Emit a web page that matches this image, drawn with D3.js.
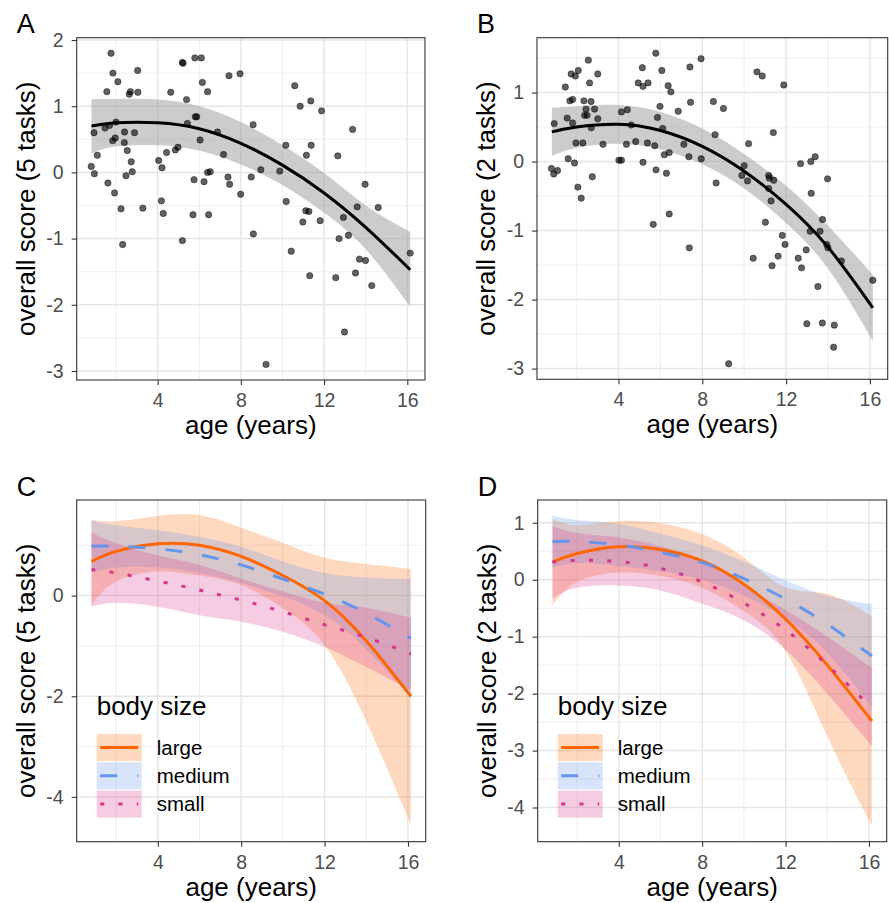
<!DOCTYPE html>
<html>
<head>
<meta charset="utf-8">
<script src="https://cdn.jsdelivr.net/npm/d3@7"></script>
<style>
  body { margin: 0; background: #fff; }
  svg { display: block; font-family: "Liberation Sans", Arial, sans-serif; }
</style>
</head>
<body>
<script>
// ==========================================
// DATA
// ==========================================

// Panel A: overall score (5 tasks) per dog
const ageA = [1.76,1.85,2.09,1.56,3.04,2.69,2.64,3.05,4.63,5.19,5.22,5.79,6.10,6.15,6.40,5.39,7.43,7.96,5.81,5.88,
  5.43,6.88,6.04,8.59,0.94,1.47,1.69,2.00,2.41,2.89,1.84,1.96,2.40,2.54,1.10,0.81,0.96,1.61,1.93,2.73,
  2.78,2.48,2.24,3.29,2.32,4.05,4.21,4.43,4.85,4.98,4.18,4.27,5.19,5.75,6.23,6.40,6.53,5.70,6.45,7.17,
  7.38,7.46,7.99,8.50,8.60,9.21,8.96,9.87,10.16,10.18,10.42,10.59,10.85,11.36,11.38,11.15,11.88,11.12,11.27,10.98,
  11.81,11.31,12.66,13.37,13.97,13.59,14.60,12.93,12.72,13.17,13.70,13.99,12.56,13.51,14.29,12.98,16.14];
const scoreA = [1.80,1.50,1.37,1.22,1.54,1.22,1.18,1.21,1.21,1.66,1.65,1.73,1.73,1.36,1.22,1.10,1.46,1.49,0.84,0.84,
  0.74,0.61,0.49,0.72,0.60,0.67,0.71,0.76,0.61,0.60,0.48,0.52,0.45,0.33,0.26,0.09,-0.02,-0.16,-0.31,0.16,
  0.01,-0.05,-0.55,-0.54,-1.09,0.18,0.07,0.30,0.34,0.38,-0.43,-0.62,-1.03,-0.11,-0.14,0.00,0.01,-0.64,-0.64,0.27,
  -0.07,-0.18,-0.33,-0.07,-0.93,-2.90,0.04,0.02,0.41,-0.44,-1.19,1.31,1.00,1.08,0.41,0.26,0.93,-0.58,-0.59,-0.75,
  -0.73,-1.56,0.25,0.65,-0.18,-0.52,-0.53,-0.68,-1.00,-0.95,-1.31,-1.33,-1.59,-1.52,-1.71,-2.41,-1.22];

// Panel B: overall score (2 tasks) per dog
const ageB = [2.56,2.08,1.94,1.74,3.01,2.62,1.46,1.68,1.81,2.35,2.69,2.45,2.86,2.38,2.50,3.01,1.55,1.81,0.93,2.70,
  1.97,2.30,3.26,1.60,1.90,0.80,0.91,1.09,2.06,2.22,2.75,4.14,4.42,4.61,4.38,4.02,4.14,4.82,4.94,5.17,
  5.41,5.14,5.78,6.07,5.98,5.86,6.11,5.38,5.73,5.17,5.79,6.19,6.42,6.29,5.66,6.42,6.37,6.50,6.85,7.41,
  7.94,7.44,7.12,7.36,7.95,7.38,8.53,9.01,8.61,8.66,9.26,10.61,10.86,11.89,11.39,10.21,10.00,9.89,10.16,11.17,
  11.20,11.41,11.17,11.28,11.01,10.43,11.82,11.95,11.62,11.33,12.69,13.18,13.39,13.98,13.20,13.74,13.62,13.15,13.94,14.00,
  14.64,12.96,12.58,12.74,13.52,16.14,12.99,13.73,14.30,14.27];
const scoreB = [1.47,1.32,1.24,1.27,1.27,1.14,1.08,0.88,0.90,0.88,0.87,0.76,0.76,0.67,0.67,0.62,0.63,0.56,0.55,0.49,
  0.27,0.27,0.25,0.04,-0.02,-0.10,-0.18,-0.13,-0.37,-0.53,-0.22,0.72,0.75,0.53,0.25,0.02,0.02,0.29,1.14,1.09,
  1.14,1.36,1.57,1.32,0.80,0.64,0.48,0.27,0.23,-0.01,-0.12,0.10,0.13,-0.17,-0.91,-0.76,1.10,1.01,0.73,1.37,
  1.49,0.86,0.25,0.07,0.04,-1.25,0.87,0.77,0.39,-0.31,-2.93,1.30,1.24,1.11,0.42,0.26,-0.06,-0.20,-0.28,-0.20,
  -0.24,-0.27,-0.39,-0.57,-0.88,-1.40,-1.07,-1.20,-1.37,-1.51,-0.03,0.00,0.07,-0.25,-0.46,-0.84,-1.01,-1.01,-1.20,-1.25,
  -1.44,-1.28,-1.40,-1.54,-1.81,-1.72,-2.35,-2.34,-2.37,-2.69];

// ages at which the fitted curves were read
const fitAges = [0.82, 2, 4, 6, 8, 10, 12, 14, 16.14];

// Panels A and B: fitted curve with confidence band
const fitA   = [0.70, 0.75, 0.75, 0.66, 0.44, 0.11, -0.31, -0.83, -1.47];
const fitALo = [0.29, 0.39, 0.41, 0.33, 0.12, -0.19, -0.61, -1.16, -2.03];
const fitAHi = [1.11, 1.11, 1.10, 1.00, 0.76, 0.41, -0.01, -0.50, -0.90];
const fitB   = [0.43, 0.50, 0.54, 0.45, 0.22, -0.14, -0.62, -1.24, -2.12];
const fitBLo = [0.08, 0.20, 0.26, 0.18, -0.04, -0.39, -0.89, -1.55, -2.60];
const fitBHi = [0.78, 0.80, 0.82, 0.72, 0.48, 0.11, -0.35, -0.93, -1.64];

// Panel C: body size groups (5 tasks)
const largeC   = [0.68, 0.88, 1.03, 1.00, 0.78, 0.40, -0.10, -0.90, -2.00];
const largeCLo = [-0.19, 0.28, 0.48, 0.40, 0.21, -0.25, -0.98, -2.50, -4.55];
const largeCHi = [1.51, 1.48, 1.58, 1.60, 1.35, 1.05, 0.75, 0.63, 0.53];
const mediumC   = [0.98, 0.98, 0.93, 0.81, 0.61, 0.33, 0.03, -0.35, -0.85];
const mediumCLo = [0.46, 0.56, 0.56, 0.45, 0.25, -0.02, -0.39, -1.06, -2.03];
const mediumCHi = [1.50, 1.40, 1.30, 1.17, 0.97, 0.68, 0.45, 0.36, 0.33];
const smallC   = [0.52, 0.45, 0.29, 0.11, -0.09, -0.32, -0.58, -0.83, -1.16];
const smallCLo = [-0.22, -0.14, -0.22, -0.39, -0.52, -0.72, -1.02, -1.42, -1.88];
const smallCHi = [1.26, 1.04, 0.80, 0.61, 0.34, 0.08, -0.14, -0.24, -0.44];

// Panel D: body size groups (2 tasks)
const largeD   = [0.31, 0.46, 0.58, 0.53, 0.33, -0.08, -0.69, -1.50, -2.48];
const largeDLo = [-0.45, -0.04, 0.13, 0.07, -0.14, -0.55, -1.25, -2.75, -4.32];
const largeDHi = [1.07, 0.96, 1.03, 0.99, 0.80, 0.39, -0.13, -0.25, -0.64];
const mediumD   = [0.67, 0.67, 0.61, 0.48, 0.30, 0.02, -0.34, -0.78, -1.34];
const mediumDLo = [0.21, 0.29, 0.24, 0.15, 0.00, -0.28, -0.67, -1.28, -2.25];
const mediumDHi = [1.13, 1.05, 0.98, 0.81, 0.60, 0.32, -0.01, -0.28, -0.43];
const smallD   = [0.31, 0.34, 0.32, 0.20, -0.04, -0.41, -0.88, -1.50, -2.25];
const smallDLo = [-0.33, -0.14, -0.10, -0.19, -0.42, -0.71, -1.23, -2.00, -2.92];
const smallDHi = [0.95, 0.82, 0.74, 0.59, 0.34, -0.11, -0.53, -1.00, -1.55];

const sizeLabels = ["large", "medium", "small"];
const xTicks = [4, 8, 12, 16];
const xMinor = [2, 6, 10, 14];

// ==========================================
// STYLE
// ==========================================
const W = 889, H = 903;
const xDomain = [0.11, 16.85];
const sizeColor = {large: "#FF6600", medium: "#6495ED", small: "#D6338C"};
const sizeDash = {large: null, medium: "17,20", small: "4,14.3"};
const bandOpacity = 0.25;

const svg = d3.select("body").append("svg")
    .attr("width", W)
    .attr("height", H);

const toRows = (fit, lo, hi) => fitAges.map((a, i) => ({age: a, fit: fit[i], lo: lo[i], hi: hi[i]}));

const panels = [
  {letter: "A", left: 76.7, right: 425, top: 37.7, bottom: 380, yDomain: [-3.136, 2.035],
   yTicks: [-3, -2, -1, 0, 1, 2], yMinor: [-2.5, -1.5, -0.5, 0.5, 1.5],
   yTitle: "overall score (5 tasks)", points: [ageA, scoreA], fit: toRows(fitA, fitALo, fitAHi)},
  {letter: "B", left: 537, right: 887.7, top: 37.7, bottom: 379.3, yDomain: [-3.155, 1.795],
   yTicks: [-3, -2, -1, 0, 1], yMinor: [-2.5, -1.5, -0.5, 0.5, 1.5],
   yTitle: "overall score (2 tasks)", points: [ageB, scoreB], fit: toRows(fitB, fitBLo, fitBHi)},
  {letter: "C", left: 76.7, right: 425.7, top: 500, bottom: 841.7, yDomain: [-4.89, 1.90],
   yTicks: [-4, -2, 0], yMinor: [-3, -1, 1],
   yTitle: "overall score (5 tasks)",
   groups: {large: toRows(largeC, largeCLo, largeCHi), medium: toRows(mediumC, mediumCLo, mediumCHi),
            small: toRows(smallC, smallCLo, smallCHi)}},
  {letter: "D", left: 537.7, right: 886.7, top: 500, bottom: 841.7, yDomain: [-4.60, 1.40],
   yTicks: [-4, -3, -2, -1, 0, 1], yMinor: [-3.5, -2.5, -1.5, -0.5, 0.5],
   yTitle: "overall score (2 tasks)",
   groups: {large: toRows(largeD, largeDLo, largeDHi), medium: toRows(mediumD, mediumDLo, mediumDHi),
            small: toRows(smallD, smallDLo, smallDHi)}}
];

panels.forEach(drawPanel);

// ==========================================
// DRAWING
// ==========================================
function drawPanel(p) {
  const x = d3.scaleLinear().domain(xDomain).range([p.left, p.right]);
  const y = d3.scaleLinear().domain(p.yDomain).range([p.bottom, p.top]);
  const g = svg.append("g");

  // grid (minor first, then major)
  const grid = g.append("g");
  grid.selectAll(".vmin").data(xMinor).join("line")
      .attr("x1", d => x(d)).attr("x2", d => x(d)).attr("y1", p.top).attr("y2", p.bottom)
      .attr("stroke", "#EBEBEB").attr("stroke-width", 0.8);
  grid.selectAll(".hmin").data(p.yMinor).join("line")
      .attr("x1", p.left).attr("x2", p.right).attr("y1", d => y(d)).attr("y2", d => y(d))
      .attr("stroke", "#EBEBEB").attr("stroke-width", 0.8);
  grid.selectAll(".vmaj").data(xTicks).join("line")
      .attr("x1", d => x(d)).attr("x2", d => x(d)).attr("y1", p.top).attr("y2", p.bottom)
      .attr("stroke", "#E6E6E6").attr("stroke-width", 1.5);
  grid.selectAll(".hmaj").data(p.yTicks).join("line")
      .attr("x1", p.left).attr("x2", p.right).attr("y1", d => y(d)).attr("y2", d => y(d))
      .attr("stroke", "#E6E6E6").attr("stroke-width", 1.5);

  if (p.points) {
    // confidence band + fitted curve
    g.append("path").datum(p.fit)
        .attr("d", d3.area().x(d => x(d.age)).y0(d => y(d.lo)).y1(d => y(d.hi)).curve(d3.curveNatural))
        .attr("fill", "#999").attr("fill-opacity", 0.5);

    const pts = p.points[0].map((a, i) => ({age: a, score: p.points[1][i]}));
    g.selectAll("circle").data(pts).join("circle")
        .attr("cx", d => x(d.age))
        .attr("cy", d => y(d.score))
        .attr("r", 3.2)
        .attr("fill", "#000").attr("fill-opacity", 0.62)
        .attr("stroke", "#000").attr("stroke-opacity", 0.5).attr("stroke-width", 0.8);

    g.append("path").datum(p.fit)
        .attr("d", d3.line().x(d => x(d.age)).y(d => y(d.fit)).curve(d3.curveNatural))
        .attr("fill", "none").attr("stroke", "#000").attr("stroke-width", 3);
  }

  if (p.groups) {
    sizeLabels.forEach(k => {
      g.append("path").datum(p.groups[k])
          .attr("d", d3.area().x(d => x(d.age)).y0(d => y(d.lo)).y1(d => y(d.hi)).curve(d3.curveNatural))
          .attr("fill", sizeColor[k]).attr("fill-opacity", bandOpacity);
    });
    sizeLabels.forEach(k => {
      g.append("path").datum(p.groups[k])
          .attr("d", d3.line().x(d => x(d.age)).y(d => y(d.fit)).curve(d3.curveNatural))
          .attr("fill", "none").attr("stroke", sizeColor[k]).attr("stroke-width", 3)
          .attr("stroke-dasharray", sizeDash[k]);
    });
    drawLegend(p);
  }

  // panel border
  g.append("rect")
      .attr("x", p.left).attr("y", p.top)
      .attr("width", p.right - p.left).attr("height", p.bottom - p.top)
      .attr("fill", "none").attr("stroke", "#333").attr("stroke-width", 1.1);

  // axes
  const xAxis = g.append("g").attr("transform", `translate(0,${p.bottom})`)
      .call(d3.axisBottom(x).tickValues(xTicks).tickSize(5).tickPadding(8).tickFormat(d => String(d)));
  const yAxis = g.append("g").attr("transform", `translate(${p.left},0)`)
      .call(d3.axisLeft(y).tickValues(p.yTicks).tickSize(5).tickPadding(8).tickFormat(d => String(d)));
  [xAxis, yAxis].forEach(ax => {
    ax.select(".domain").remove();
    ax.selectAll(".tick line").attr("stroke", "#333").attr("stroke-width", 1.1);
    ax.selectAll(".tick text").attr("fill", "#4D4D4D").style("font-size", "19.5px")
        .style("font-family", "\"Liberation Sans\", Arial, sans-serif");
  });

  // titles
  g.append("text")
      .attr("x", (p.left + p.right) / 2).attr("y", p.bottom + 54)
      .attr("text-anchor", "middle").style("font-size", "26px").attr("fill", "#000")
      .text("age (years)");
  g.append("text")
      .attr("transform", `translate(${p.left - 42},${(p.top + p.bottom) / 2}) rotate(-90)`)
      .attr("text-anchor", "middle").style("font-size", "26px").attr("fill", "#000")
      .text(p.yTitle);
  g.append("text")
      .attr("x", p.left - 60).attr("y", p.top - 4.5)
      .style("font-size", "27px").attr("fill", "#000")
      .text(p.letter);
}

function drawLegend(p) {
  const lx = p.left + 20, ly = p.top + 215;
  const lg = svg.append("g").attr("transform", `translate(${lx},${ly})`);
  lg.append("text").attr("x", 0).attr("y", 0)
      .style("font-size", "26px").attr("fill", "#000").text("body size");
  sizeLabels.forEach((k, i) => {
    const ky = 19 + i * 28.3;
    lg.append("rect").attr("x", 0).attr("y", ky).attr("width", 45).attr("height", 27)
        .attr("fill", sizeColor[k]).attr("fill-opacity", bandOpacity);
    lg.append("line").attr("x1", 3.5).attr("x2", 41.5).attr("y1", ky + 13.5).attr("y2", ky + 13.5)
        .attr("stroke", sizeColor[k]).attr("stroke-width", 3)
        .attr("stroke-dasharray", sizeDash[k]);
    lg.append("text").attr("x", 60).attr("y", ky + 20.5)
        .style("font-size", "20.5px").attr("fill", "#000").text(k);
  });
}
</script>
</body>
</html>
